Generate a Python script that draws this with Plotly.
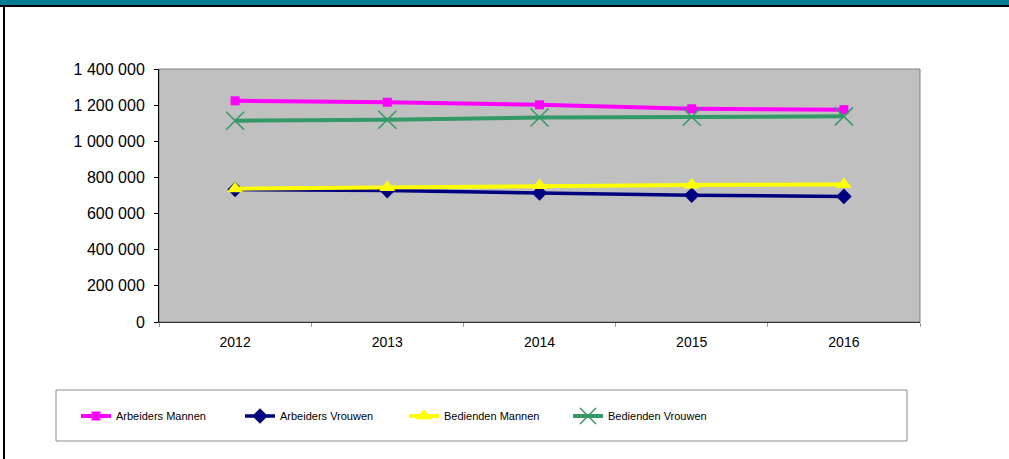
import plotly.graph_objects as go

years = ["2012", "2013", "2014", "2015", "2016"]
arbeiders_mannen = [1224000, 1216000, 1202000, 1180000, 1175000]
arbeiders_vrouwen = [733000, 727000, 714000, 701000, 695000]
bedienden_mannen = [738000, 744000, 755000, 758000, 761000]
bedienden_vrouwen = [1114000, 1119000, 1132000, 1136000, 1138000]

y_tickvals = [0, 200000, 400000, 600000, 800000, 1000000, 1200000, 1400000]
y_ticktext = ["0", "200 000", "400 000", "600 000", "800 000", "1 000 000", "1 200 000", "1 400 000"]

W, H = 1009, 459
L, R, T, B = 159, 920, 69, 322

def px_x(x):
    return (x - L) / (R - L)

def px_y(y):
    return (B - y) / (B - T)

FONT = "Liberation Sans, Arial, sans-serif"

fig = go.Figure()
fig.add_trace(go.Scatter(
    x=years, y=arbeiders_mannen, name="Arbeiders Mannen", mode="lines+markers",
    line=dict(color="#FF00FF", width=4),
    marker=dict(symbol="square", size=9, color="#FF00FF")))
fig.add_trace(go.Scatter(
    x=years, y=arbeiders_vrouwen, name="Arbeiders Vrouwen", mode="lines+markers",
    line=dict(color="#000080", width=3.5),
    marker=dict(symbol="diamond", size=12, color="#000080")))
fig.add_trace(go.Scatter(
    x=years, y=bedienden_mannen, name="Bedienden Mannen", mode="lines+markers",
    line=dict(color="#FFFF00", width=4),
    marker=dict(symbol="triangle-up", size=14, color="#FFFF00")))
fig.add_trace(go.Scatter(
    x=years, y=bedienden_vrouwen, name="Bedienden Vrouwen", mode="lines+markers",
    line=dict(color="#339966", width=4),
    marker=dict(symbol="x-thin-open", size=18, color="#339966",
                line=dict(color="#339966", width=1.5))))

shapes = [
    dict(type="rect", xref="paper", yref="paper", x0=0, x1=1, y0=0, y1=1,
         line=dict(color="#808080", width=1), layer="below"),
    dict(type="rect", xref="paper", yref="paper", x0=px_x(0), x1=px_x(W),
         y0=px_y(5), y1=px_y(0), fillcolor="#037B95", line=dict(width=0)),
    dict(type="rect", xref="paper", yref="paper", x0=px_x(0), x1=px_x(W),
         y0=px_y(7), y1=px_y(5), fillcolor="#000000", line=dict(width=0)),
    dict(type="rect", xref="paper", yref="paper", x0=px_x(3), x1=px_x(5),
         y0=px_y(H), y1=px_y(6), fillcolor="#000000", line=dict(width=0)),
    dict(type="rect", xref="paper", yref="paper", x0=px_x(56), x1=px_x(907),
         y0=px_y(441), y1=px_y(390), line=dict(color="#8c8c8c", width=1),
         fillcolor="rgba(0,0,0,0)"),
]

fig.update_layout(
    width=W, height=H,
    margin=dict(l=L, r=W - R, t=T, b=H - B, pad=0),
    paper_bgcolor="white",
    plot_bgcolor="#C0C0C0",
    font=dict(family=FONT, color="black", size=13),
    showlegend=True,
    legend=dict(orientation="h", x=px_x(76), y=px_y(416), xanchor="left", yanchor="middle",
                entrywidth=119, entrywidthmode="pixels", itemwidth=30,
                font=dict(size=11, family=FONT), bgcolor="rgba(0,0,0,0)",
                tracegroupgap=0),
    xaxis=dict(type="category", range=[-0.5, 4.5], showgrid=False, zeroline=False,
               showline=True, linecolor="#333333", linewidth=1,
               ticks="outside", tickson="boundaries", ticklen=4, tickcolor="#999999",
               tickfont=dict(size=14, family=FONT), ticklabelstandoff=7),
    yaxis=dict(range=[0, 1400000], showgrid=False, zeroline=False,
               showline=True, linecolor="black", linewidth=1,
               ticks="outside", ticklen=4, tickcolor="black",
               tickvals=y_tickvals, ticktext=y_ticktext,
               tickfont=dict(size=16), ticklabelstandoff=6),
    shapes=shapes,
)

fig.write_html("out.html", config={"displayModeBar": False},
               post_script="document.body.style.margin='0';")
